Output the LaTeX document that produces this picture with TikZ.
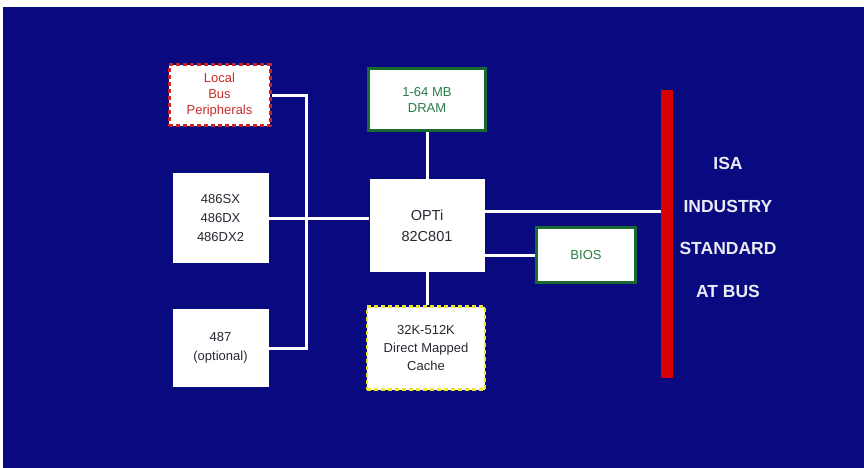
\documentclass[tikz,border=0pt]{standalone}
\usepackage{fontspec}
\setmainfont{Liberation Sans}
\definecolor{navy}{RGB}{10,10,128}
\definecolor{bred}{RGB}{205,35,35}
\definecolor{bgreen}{RGB}{25,105,50}
\definecolor{tgreen}{RGB}{40,125,70}
\definecolor{byellow}{RGB}{235,230,40}
\definecolor{tred}{RGB}{200,45,45}
\definecolor{bartxt}{RGB}{235,235,245}
\definecolor{btext}{RGB}{40,40,50}
\begin{document}
\begin{tikzpicture}[x=1pt,y=-1pt,
  box/.style={draw=none,fill=white,inner sep=0pt,align=center,text=btext,font=\fontsize{13}{16}\selectfont},
  greenbox/.style={box,draw=bgreen,line width=3pt,text=tgreen},
  redbox/.style={box,draw=bred,line width=3pt,dash pattern=on 4pt off 3pt,text=tred},
  yellowbox/.style={box,draw=byellow,line width=2.5pt,dash pattern=on 4pt off 3pt},
  wire/.style={draw=white,line width=3pt},
  isatext/.style={text=bartxt,font=\fontsize{17.5}{20}\selectfont\bfseries}
]
\useasboundingbox (0,0) rectangle (864,468);
\fill[white] (0,0) rectangle (864,468);
\fill[navy] (3,7) rectangle (864,468);

\node[redbox,minimum width=101pt,minimum height=61pt,font=\fontsize{13}{16}\selectfont] (lbp) at (219.5,95.5)
  {Local\\Bus\\Peripherals};
\node[greenbox,minimum width=117pt,minimum height=62pt,font=\fontsize{13}{16}\selectfont] (dram) at (427,99.5)
  {1-64 MB\\DRAM};
\node[box,minimum width=96pt,minimum height=90pt,font=\fontsize{13}{19}\selectfont] (cpu) at (220.5,218)
  {486SX\\486DX\\486DX2};
\node[box,minimum width=115pt,minimum height=93pt,font=\fontsize{14.5}{21}\selectfont] (opti) at (427,225.5)
  {OPTi\\82C801};
\node[box,minimum width=96pt,minimum height=78pt,font=\fontsize{13}{19}\selectfont] (fpu) at (220.5,348)
  {487\\(optional)};
\node[yellowbox,minimum width=118pt,minimum height=83pt,font=\fontsize{13}{18.3}\selectfont] (cache) at (426,348)
  {32K-512K\\Direct Mapped\\Cache};
\node[greenbox,minimum width=99pt,minimum height=55pt] (bios) at (586,255)
  {BIOS};
\node[fill=red!85!black,minimum width=12pt,minimum height=288pt,inner sep=0pt] (isabar) at (667,234) {};

\node[isatext] (t1) at (728,163) {ISA};
\node[isatext] (t2) at (728,206) {INDUSTRY};
\node[isatext] (t3) at (728,248.5) {STANDARD};
\node[isatext] (t4) at (728,291.5) {AT BUS};

\coordinate (busx) at (306,0);
\draw[wire] (lbp.east) -| (busx |- fpu.east) -- (fpu.east);
\draw[wire] (cpu.east) -- (cpu.east -| opti.west);
\draw[wire] (dram.south) -- (opti.north);
\draw[wire] (opti.south) -- (opti.south |- cache.north);
\draw[wire] ([yshift=14.5pt]opti.east) -- ([yshift=14.5pt]opti.east -| isabar.west);
\draw[wire] (opti.east |- bios.west) -- (bios.west);
\end{tikzpicture}
\end{document}
